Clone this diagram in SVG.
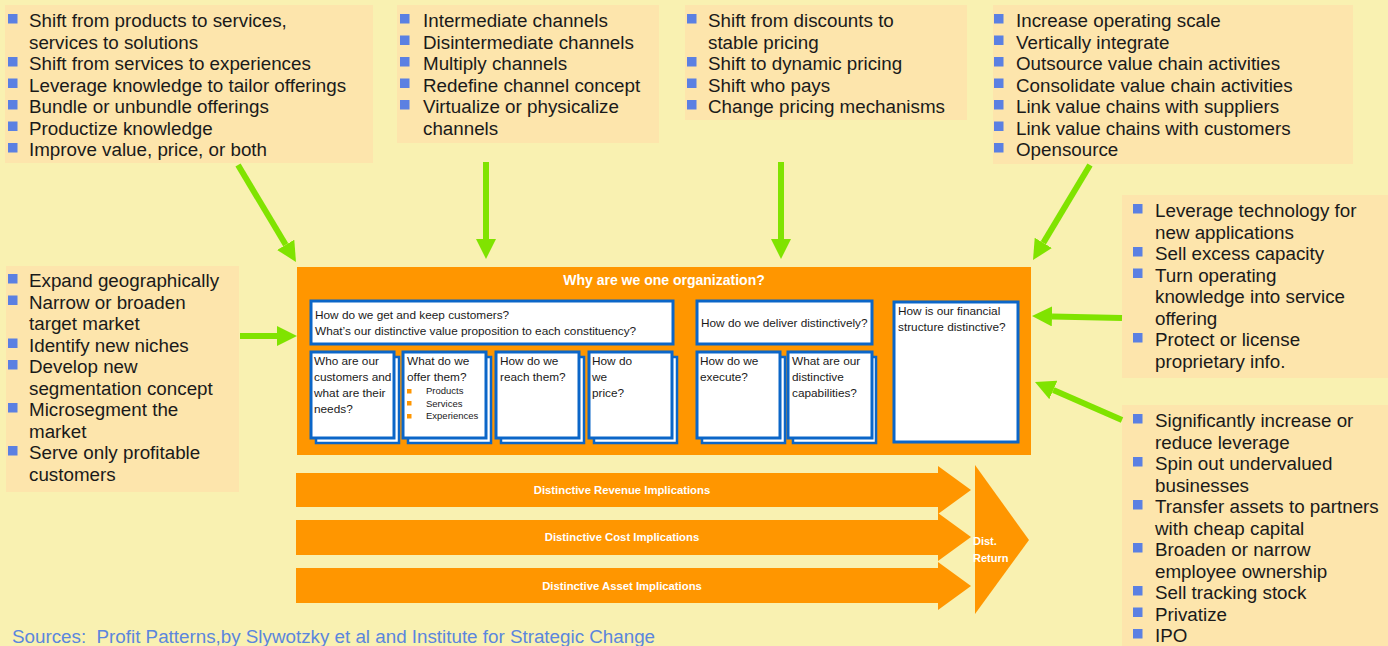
<svg xmlns="http://www.w3.org/2000/svg" width="1388" height="646" viewBox="0 0 1388 646">
<style>
.bg{fill:#F9F1B1}
.box{fill:#FDE5AC}
.t{font-family:"Liberation Sans",Arial,sans-serif;font-size:18.8px;fill:#1a1a1a}
.b{fill:#5B80E2}
.org{fill:#FF9600}
.card{fill:#ffffff;stroke:#0B66C8;stroke-width:3}
.back{fill:#ffffff;stroke:#0B66C8;stroke-width:2.5}
.s{font-family:"Liberation Sans",Arial,sans-serif;font-size:11.8px;fill:#1a1a1a}
.xs{font-family:"Liberation Sans",Arial,sans-serif;font-size:9.5px;fill:#1a1a1a}
.ob{fill:#FF9600}
.w{font-family:"Liberation Sans",Arial,sans-serif;font-weight:bold;fill:#ffffff}
.g{stroke:#80E300;stroke-width:6;fill:none}
</style>
<defs>
<marker id="ah" viewBox="0 0 20 20" refX="0" refY="10" markerWidth="20" markerHeight="20" markerUnits="userSpaceOnUse" orient="auto">
<path d="M0,0 L20,10 L0,20 z" fill="#80E300"/>
</marker>
</defs>
<rect class="bg" x="0" y="0" width="1388" height="646"/>

<g id="box-offer">
<rect class="box" x="5" y="5" width="368" height="158"/>
<rect class="b" x="8" y="14" width="9.5" height="9.5"/>
<rect class="b" x="8" y="57" width="9.5" height="9.5"/>
<rect class="b" x="8" y="78.5" width="9.5" height="9.5"/>
<rect class="b" x="8" y="100" width="9.5" height="9.5"/>
<rect class="b" x="8" y="121.5" width="9.5" height="9.5"/>
<rect class="b" x="8" y="143" width="9.5" height="9.5"/>
<text class="t" x="29" y="27">Shift from products to services,</text>
<text class="t" x="29" y="48.5">services to solutions</text>
<text class="t" x="29" y="70">Shift from services to experiences</text>
<text class="t" x="29" y="91.5">Leverage knowledge to tailor offerings</text>
<text class="t" x="29" y="113">Bundle or unbundle offerings</text>
<text class="t" x="29" y="134.5">Productize knowledge</text>
<text class="t" x="29" y="156">Improve value, price, or both</text>
</g>

<g id="box-channels">
<rect class="box" x="397" y="5" width="262" height="138"/>
<rect class="b" x="400" y="14" width="9.5" height="9.5"/>
<rect class="b" x="400" y="35.5" width="9.5" height="9.5"/>
<rect class="b" x="400" y="57" width="9.5" height="9.5"/>
<rect class="b" x="400" y="78.5" width="9.5" height="9.5"/>
<rect class="b" x="400" y="100" width="9.5" height="9.5"/>
<text class="t" x="423" y="27">Intermediate channels</text>
<text class="t" x="423" y="48.5">Disintermediate channels</text>
<text class="t" x="423" y="70">Multiply channels</text>
<text class="t" x="423" y="91.5">Redefine channel concept</text>
<text class="t" x="423" y="113">Virtualize or physicalize</text>
<text class="t" x="423" y="134.5">channels</text>
</g>

<g id="box-pricing">
<rect class="box" x="685" y="5" width="282" height="115"/>
<rect class="b" x="687" y="14" width="9.5" height="9.5"/>
<rect class="b" x="687" y="57" width="9.5" height="9.5"/>
<rect class="b" x="687" y="78.5" width="9.5" height="9.5"/>
<rect class="b" x="687" y="100" width="9.5" height="9.5"/>
<text class="t" x="708" y="27">Shift from discounts to</text>
<text class="t" x="708" y="48.5">stable pricing</text>
<text class="t" x="708" y="70">Shift to dynamic pricing</text>
<text class="t" x="708" y="91.5">Shift who pays</text>
<text class="t" x="708" y="113">Change pricing mechanisms</text>
</g>

<g id="box-value-chain">
<rect class="box" x="993" y="5" width="360" height="159"/>
<rect class="b" x="994" y="14" width="9.5" height="9.5"/>
<rect class="b" x="994" y="35.5" width="9.5" height="9.5"/>
<rect class="b" x="994" y="57" width="9.5" height="9.5"/>
<rect class="b" x="994" y="78.5" width="9.5" height="9.5"/>
<rect class="b" x="994" y="100" width="9.5" height="9.5"/>
<rect class="b" x="994" y="121.5" width="9.5" height="9.5"/>
<rect class="b" x="994" y="143" width="9.5" height="9.5"/>
<text class="t" x="1016" y="27">Increase operating scale</text>
<text class="t" x="1016" y="48.5">Vertically integrate</text>
<text class="t" x="1016" y="70">Outsource value chain activities</text>
<text class="t" x="1016" y="91.5">Consolidate value chain activities</text>
<text class="t" x="1016" y="113">Link value chains with suppliers</text>
<text class="t" x="1016" y="134.5">Link value chains with customers</text>
<text class="t" x="1016" y="156">Opensource</text>
</g>

<g id="box-capabilities">
<rect class="box" x="1122" y="195" width="266" height="183"/>
<rect class="b" x="1133" y="204" width="9.5" height="9.5"/>
<rect class="b" x="1133" y="247" width="9.5" height="9.5"/>
<rect class="b" x="1133" y="268.5" width="9.5" height="9.5"/>
<rect class="b" x="1133" y="333" width="9.5" height="9.5"/>
<text class="t" x="1155" y="217">Leverage technology for</text>
<text class="t" x="1155" y="238.5">new applications</text>
<text class="t" x="1155" y="260">Sell excess capacity</text>
<text class="t" x="1155" y="281.5">Turn operating</text>
<text class="t" x="1155" y="303">knowledge into service</text>
<text class="t" x="1155" y="324.5">offering</text>
<text class="t" x="1155" y="346">Protect or license</text>
<text class="t" x="1155" y="367.5">proprietary info.</text>
</g>

<g id="box-financial">
<rect class="box" x="1122" y="405" width="266" height="241"/>
<rect class="b" x="1133" y="414" width="9.5" height="9.5"/>
<rect class="b" x="1133" y="457" width="9.5" height="9.5"/>
<rect class="b" x="1133" y="500" width="9.5" height="9.5"/>
<rect class="b" x="1133" y="543" width="9.5" height="9.5"/>
<rect class="b" x="1133" y="586" width="9.5" height="9.5"/>
<rect class="b" x="1133" y="607.5" width="9.5" height="9.5"/>
<rect class="b" x="1133" y="629" width="9.5" height="9.5"/>
<text class="t" x="1155" y="427">Significantly increase or</text>
<text class="t" x="1155" y="448.5">reduce leverage</text>
<text class="t" x="1155" y="470">Spin out undervalued</text>
<text class="t" x="1155" y="491.5">businesses</text>
<text class="t" x="1155" y="513">Transfer assets to partners</text>
<text class="t" x="1155" y="534.5">with cheap capital</text>
<text class="t" x="1155" y="556">Broaden or narrow</text>
<text class="t" x="1155" y="577.5">employee ownership</text>
<text class="t" x="1155" y="599">Sell tracking stock</text>
<text class="t" x="1155" y="620.5">Privatize</text>
<text class="t" x="1155" y="642">IPO</text>
</g>

<g id="box-customers">
<rect class="box" x="6" y="266" width="233" height="226"/>
<rect class="b" x="8" y="274" width="9.5" height="9.5"/>
<rect class="b" x="8" y="295.5" width="9.5" height="9.5"/>
<rect class="b" x="8" y="338.5" width="9.5" height="9.5"/>
<rect class="b" x="8" y="360" width="9.5" height="9.5"/>
<rect class="b" x="8" y="403" width="9.5" height="9.5"/>
<rect class="b" x="8" y="446" width="9.5" height="9.5"/>
<text class="t" x="29" y="287">Expand geographically</text>
<text class="t" x="29" y="308.5">Narrow or broaden</text>
<text class="t" x="29" y="330">target market</text>
<text class="t" x="29" y="351.5">Identify new niches</text>
<text class="t" x="29" y="373">Develop new</text>
<text class="t" x="29" y="394.5">segmentation concept</text>
<text class="t" x="29" y="416">Microsegment the</text>
<text class="t" x="29" y="437.5">market</text>
<text class="t" x="29" y="459">Serve only profitable</text>
<text class="t" x="29" y="480.5">customers</text>
</g>

<g id="organization">
<rect class="org" x="297" y="267" width="734" height="188"/>
<text class="w" x="664" y="285" font-size="14" text-anchor="middle">Why are we one organization?</text>
</g>

<g id="q-customers">
<rect class="card" x="311" y="301" width="362" height="43"/>
<text class="s" x="315" y="319">How do we get and keep customers?</text>
<text class="s" x="315" y="335">What’s our distinctive value proposition to each constituency?</text>
</g>

<g id="q-who">
<rect class="back" x="316" y="357" width="83" height="86"/>
<rect class="card" x="311" y="352" width="83" height="86"/>
<text class="s" x="314" y="365">Who are our</text>
<text class="s" x="314" y="381">customers and</text>
<text class="s" x="314" y="397">what are their</text>
<text class="s" x="314" y="413">needs?</text>
</g>

<g id="q-offer">
<rect class="back" x="408" y="357" width="83" height="86"/>
<rect class="card" x="403" y="352" width="83" height="86"/>
<text class="s" x="407" y="365">What do we</text>
<text class="s" x="407" y="381">offer them?</text>
<rect class="ob" x="407" y="389" width="4.5" height="4.5"/>
<rect class="ob" x="407" y="401" width="4.5" height="4.5"/>
<rect class="ob" x="407" y="414" width="4.5" height="4.5"/>
<text class="xs" x="426" y="394">Products</text>
<text class="xs" x="426" y="406.5">Services</text>
<text class="xs" x="426" y="419">Experiences</text>
</g>

<g id="q-reach">
<rect class="back" x="501" y="357" width="83" height="86"/>
<rect class="card" x="496" y="352" width="83" height="86"/>
<text class="s" x="500" y="365">How do we</text>
<text class="s" x="500" y="381">reach them?</text>
</g>

<g id="q-price">
<rect class="back" x="594" y="357" width="83" height="86"/>
<rect class="card" x="589" y="352" width="83" height="86"/>
<text class="s" x="592" y="365">How do</text>
<text class="s" x="592" y="381">we</text>
<text class="s" x="592" y="397">price?</text>
</g>

<g id="q-deliver">
<rect class="card" x="697" y="301" width="175" height="43"/>
<text class="s" x="701" y="327">How do we deliver distinctively?</text>
</g>

<g id="q-execute">
<rect class="back" x="702" y="357" width="83" height="86"/>
<rect class="card" x="697" y="352" width="83" height="86"/>
<text class="s" x="700" y="365">How do we</text>
<text class="s" x="700" y="381">execute?</text>
</g>

<g id="q-capabilities">
<rect class="back" x="793" y="357" width="83" height="86"/>
<rect class="card" x="788" y="352" width="84" height="86"/>
<text class="s" x="792" y="365">What are our</text>
<text class="s" x="792" y="381">distinctive</text>
<text class="s" x="792" y="397">capabilities?</text>
</g>

<g id="q-financial">
<rect class="card" x="894" y="302" width="124" height="140"/>
<text class="s" x="898" y="315">How is our financial</text>
<text class="s" x="898" y="331">structure distinctive?</text>
</g>

<g id="arrow-revenue">
<polygon class="org" points="296,473 938,473 938,466 971,490 938,514 938,507 296,507"/>
<text class="w" x="622" y="494" font-size="11.3" text-anchor="middle">Distinctive Revenue Implications</text>
</g>
<g id="arrow-cost">
<polygon class="org" points="296,520 938,520 938,513 971,537 938,561 938,555 296,555"/>
<text class="w" x="622" y="541" font-size="11.3" text-anchor="middle">Distinctive Cost Implications</text>
</g>
<g id="arrow-asset">
<polygon class="org" points="296,568 938,568 938,562 971,586 938,610 938,603 296,603"/>
<text class="w" x="622" y="590" font-size="11.3" text-anchor="middle">Distinctive Asset Implications</text>
</g>
<g id="dist-return">
<polygon class="org" points="975,465 1029,540 975,614"/>
<text class="w" x="973" y="545" font-size="11">Dist.</text>
<text class="w" x="973" y="562" font-size="11">Return</text>
</g>

<g id="connectors">
<line class="g" x1="238" y1="165" x2="285.7" y2="244.8" marker-end="url(#ah)"/>
<line class="g" x1="486" y1="162" x2="486" y2="239" marker-end="url(#ah)"/>
<line class="g" x1="781" y1="162" x2="781" y2="239" marker-end="url(#ah)"/>
<line class="g" x1="1090" y1="165" x2="1043.3" y2="242.9" marker-end="url(#ah)"/>
<line class="g" x1="1122" y1="318" x2="1052" y2="316.4" marker-end="url(#ah)"/>
<line class="g" x1="1122" y1="420" x2="1053.3" y2="390" marker-end="url(#ah)"/>
<line class="g" x1="240" y1="336" x2="277" y2="336" marker-end="url(#ah)"/>
</g>

<text x="12" y="643" xml:space="preserve" font-family="Liberation Sans, Arial, sans-serif" font-size="18.8" fill="#5B86DE">Sources:  Profit Patterns,by Slywotzky et al and Institute for Strategic Change</text>
</svg>
